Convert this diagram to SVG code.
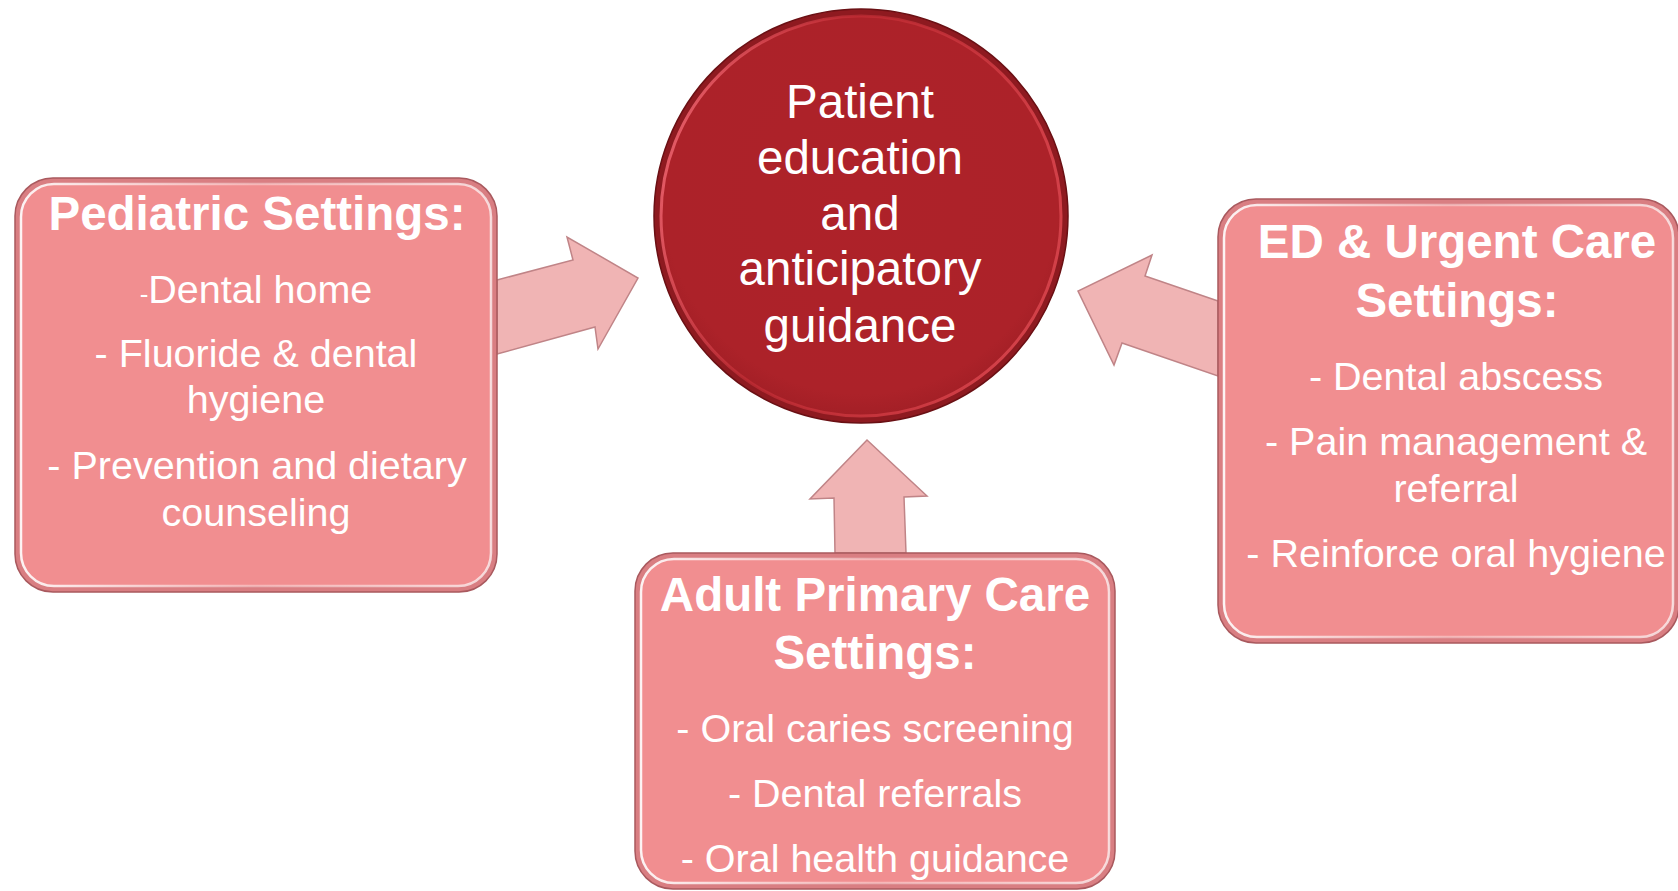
<svg xmlns="http://www.w3.org/2000/svg" width="1678" height="891" viewBox="0 0 1678 891">
<style>
.boxo{fill:#D97E82;stroke:#A9595E;stroke-width:1.5}
.boxi{fill:#F18E90;stroke:url(#hl);stroke-width:2.5}
.arrow{fill:#F0B4B4;stroke:#C08487;stroke-width:1.5;stroke-linejoin:miter}
text{font-family:"Liberation Sans",Arial,sans-serif;fill:#FFFFFF;text-anchor:middle}
.t{font-size:47.5px;font-weight:bold}
.b{font-size:39.5px}
.c{font-size:47.5px}
</style>
<defs>
<linearGradient id="hl" x1="0" y1="0" x2="1" y2="0">
<stop offset="0" stop-color="#FFFFFF" stop-opacity="0.9"/>
<stop offset="0.5" stop-color="#FFE8E8" stop-opacity="0.45"/>
<stop offset="1" stop-color="#FFFFFF" stop-opacity="0.7"/>
</linearGradient>
<linearGradient id="rim" x1="0" y1="0" x2="1" y2="0.3">
<stop offset="0" stop-color="#F5707C"/>
<stop offset="0.45" stop-color="#C83038" stop-opacity="0.6"/>
<stop offset="1" stop-color="#D24048"/>
</linearGradient>
<radialGradient id="cf" cx="0.5" cy="0.45" r="0.55">
<stop offset="0" stop-color="#AE2229"/>
<stop offset="0.9" stop-color="#AC2229"/>
<stop offset="1" stop-color="#A31F26"/>
</radialGradient>
</defs>
<g id="connectors">
<polygon class="arrow" points="497,280 573,260 567,237 638,278 598,349 595,327 497,354"/>
<polygon class="arrow" points="1218,301 1145,276 1152,255 1078,291 1114,365 1122,343 1218,376"/>
<polygon class="arrow" points="835,553 834,498 810,499 867,440 927,496 904,497 906,553"/>
</g>
<g id="center">
<circle cx="861" cy="216" r="207" fill="#8E1A20" stroke="#6A1014" stroke-width="1.5"/>
<circle cx="861" cy="216" r="200" fill="url(#cf)" stroke="url(#rim)" stroke-width="3"/>
<text class="c" x="860" y="118">Patient</text>
<text class="c" x="860" y="174">education</text>
<text class="c" x="860" y="230">and</text>
<text class="c" x="860" y="285">anticipatory</text>
<text class="c" x="860" y="342">guidance</text>
</g>
<g id="pediatric">
<rect class="boxo" x="15" y="178" width="482" height="414" rx="38"/>
<rect class="boxi" x="21" y="184" width="470" height="402" rx="33"/>
<text class="t" x="257" y="230">Pediatric Settings:</text>
<text class="b" x="256" y="303"><tspan font-size="26px">-</tspan>Dental home</text>
<text class="b" x="256" y="367">- Fluoride &amp; dental</text>
<text class="b" x="256" y="413">hygiene</text>
<text class="b" x="257" y="479">- Prevention and dietary</text>
<text class="b" x="256" y="526">counseling</text>
</g>
<g id="ed">
<rect class="boxo" x="1218" y="199" width="461" height="444" rx="38"/>
<rect class="boxi" x="1224" y="205" width="449" height="432" rx="33"/>
<text class="t" x="1457" y="258">ED &amp; Urgent Care</text>
<text class="t" x="1457" y="317">Settings:</text>
<text class="b" x="1456" y="390">- Dental abscess</text>
<text class="b" x="1456" y="455">- Pain management &amp;</text>
<text class="b" x="1456" y="502">referral</text>
<text class="b" x="1456" y="567">- Reinforce oral hygiene</text>
</g>
<g id="adult">
<rect class="boxo" x="635" y="553" width="480" height="336" rx="38"/>
<rect class="boxi" x="641" y="559" width="468" height="324" rx="33"/>
<text class="t" x="875" y="611">Adult Primary Care</text>
<text class="t" x="875" y="669">Settings:</text>
<text class="b" x="875" y="742">- Oral caries screening</text>
<text class="b" x="875" y="807">- Dental referrals</text>
<text class="b" x="875" y="872">- Oral health guidance</text>
</g>
</svg>
